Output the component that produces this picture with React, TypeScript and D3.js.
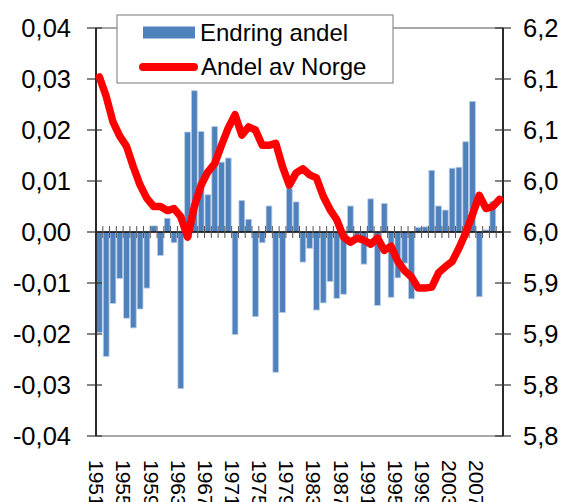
import React from "react";
import * as d3 from "d3";

const years: number[] = [
  1951, 1952, 1953, 1954, 1955, 1956, 1957, 1958, 1959, 1960,
  1961, 1962, 1963, 1964, 1965, 1966, 1967, 1968, 1969, 1970,
  1971, 1972, 1973, 1974, 1975, 1976, 1977, 1978, 1979, 1980,
  1981, 1982, 1983, 1984, 1985, 1986, 1987, 1988, 1989, 1990,
  1991, 1992, 1993, 1994, 1995, 1996, 1997, 1998, 1999, 2000,
  2001, 2002, 2003, 2004, 2005, 2006, 2007, 2008, 2009, 2010,
];

const endringAndel: (number | null)[] = [
  -0.0197, -0.0244, -0.014, -0.0091, -0.0169, -0.0188, -0.0151, -0.011, 0.0012, -0.0046,
  0.0027, -0.0021, -0.0307, 0.0196, 0.0277, 0.0197, 0.0073, 0.0207, 0.0137, 0.0145,
  -0.0201, 0.0062, 0.0025, -0.0166, -0.0021, 0.0051, -0.0275, -0.0158, 0.0086, 0.0059,
  -0.0059, -0.0032, -0.0153, -0.0139, -0.0097, -0.013, -0.0122, 0.0051, -0.0015, -0.0063,
  0.0065, -0.0144, 0.0056, -0.0128, -0.009, -0.0061, -0.0131, 0.0009, 0.001, 0.0121,
  0.0051, 0.0043, 0.0125, 0.0127, 0.0177, 0.0256, -0.0127, 0.0004, 0.006, null,
];

const andelAvNorge: number[] = [
  6.152, 6.133, 6.108, 6.094, 6.084, 6.064, 6.046, 6.033, 6.025, 6.025,
  6.021, 6.023, 6.015, 5.995, 6.025, 6.046, 6.059, 6.067, 6.085, 6.102,
  6.115, 6.095, 6.103, 6.1, 6.085, 6.085, 6.087, 6.064, 6.046, 6.058,
  6.062, 6.056, 6.053, 6.035, 6.022, 6.012, 5.995, 5.99, 5.994, 5.992,
  5.988, 5.994, 5.982, 5.986, 5.971, 5.962, 5.956, 5.945, 5.945, 5.946,
  5.96, 5.966, 5.971, 5.984, 5.999, 6.017, 6.036, 6.023, 6.025, 6.032,
];

const xLabelYears: number[] = [1951, 1955, 1959, 1963, 1967, 1971, 1975, 1979, 1983, 1987, 1991, 1995, 1999, 2003, 2007];

const leftTicks: number[] = [0.04, 0.03, 0.02, 0.01, 0, -0.01, -0.02, -0.03, -0.04];
const leftTickLabels: string[] = ["0,04", "0,03", "0,02", "0,01", "0,00", "-0,01", "-0,02", "-0,03", "-0,04"];

const rightTicks: number[] = [6.2, 6.15, 6.1, 6.05, 6.0, 5.95, 5.9, 5.85, 5.8];
const rightTickLabels: string[] = ["6,2", "6,1", "6,1", "6,0", "6,0", "5,9", "5,9", "5,8", "5,8"];

const seriesNames: string[] = ["Endring andel", "Andel av Norge"];

const FONT = "'Liberation Sans', Arial, sans-serif";
const BLUE = "#4F81BD";
const RED = "#FF0000";

export default function App() {
  const W = 567;
  const H = 502;
  const left = 96;
  const right = 503;
  const top = 28;
  const bottom = 436;

  const x = d3
    .scaleBand<number>()
    .domain(years)
    .range([left, right])
    .paddingInner(0.15)
    .paddingOuter(0.075);
  const step = x.step();
  const yL = d3.scaleLinear().domain([-0.04, 0.04]).range([bottom, top]);
  const yR = d3.scaleLinear().domain([5.8, 6.2]).range([bottom, top]);

  const line = d3
    .line<number>()
    .x((_, i) => (x(years[i]) as number) + x.bandwidth() / 2)
    .y((d) => yR(d));

  const y0 = yL(0);

  return (
    <svg
      width={W}
      height={H}
      style={{ position: "absolute", left: 0, top: 0, background: "#fff" }}
      fontFamily={FONT}
    >
      <rect x={0} y={0} width={W} height={H} fill="#fff" />
      {/* plot area border */}
      <rect x={left} y={top} width={right - left} height={bottom - top} fill="none" stroke="#8C8C8C" strokeWidth={1.5} />

      {/* bars */}
      {endringAndel.map((v, i) => {
        if (v === null) return null;
        const yy = yL(v);
        return (
          <rect
            key={"b" + i}
            x={x(years[i]) as number}
            y={Math.min(yy, y0)}
            width={x.bandwidth()}
            height={Math.abs(yy - y0)}
            fill={BLUE}
            stroke="#B9CDE5"
            strokeWidth={0.8}
          />
        );
      })}

      {/* zero axis with category ticks */}
      <line x1={left} x2={right} y1={y0} y2={y0} stroke="#000" strokeWidth={1.5} />
      {years.map((yr, i) => {
        const bx = (x(yr) as number) - (step * 0.15) / 2;
        if (i === 0) return null;
        return <line key={"t" + i} x1={bx} x2={bx} y1={y0 - 6} y2={y0 + 6} stroke="#555" strokeWidth={1} />;
      })}
      <line x1={right} x2={right} y1={y0 - 6} y2={y0 + 6} stroke="#555" strokeWidth={1} />

      {/* left axis */}
      <line x1={left} x2={left} y1={top} y2={bottom} stroke="#000" strokeWidth={1.5} />
      {leftTicks.map((t, i) => (
        <g key={"l" + i}>
          <line x1={left - 9} x2={left + 6} y1={yL(t)} y2={yL(t)} stroke="#333" strokeWidth={1.2} />
          <text x={71} y={yL(t)} dy="0.36em" textAnchor="end" fontSize={25.5} fill="#000">
            {leftTickLabels[i]}
          </text>
        </g>
      ))}

      {/* right axis */}
      <line x1={right} x2={right} y1={top} y2={bottom} stroke="#000" strokeWidth={1.5} />
      {rightTicks.map((t, i) => (
        <g key={"r" + i}>
          <line x1={right - 8} x2={right + 8} y1={yR(t)} y2={yR(t)} stroke="#333" strokeWidth={1.2} />
          <text x={523} y={yR(t)} dy="0.36em" textAnchor="start" fontSize={25.5} fill="#000">
            {rightTickLabels[i]}
          </text>
        </g>
      ))}

      {/* line */}
      <path
        d={line(andelAvNorge) || ""}
        fill="none"
        stroke={RED}
        strokeWidth={7.5}
        strokeLinejoin="round"
        strokeLinecap="round"
      />

      {/* x labels */}
      {xLabelYears.map((yr) => {
        const cx = (x(yr) as number) + x.bandwidth() / 2 - 2.5;
        return (
          <text
            key={"x" + yr}
            transform={`translate(${cx},460) rotate(90)`}
            dy="0.36em"
            textAnchor="start"
            fontSize={21}
            fill="#000"
          >
            {yr}
          </text>
        );
      })}

      {/* legend */}
      <rect x={117} y={15} width={276} height={68} fill="#fff" stroke="#8C8C8C" strokeWidth={1.2} />
      <rect x={143} y={26.5} width={52} height={12} fill={BLUE} />
      <text x={200} y={41} fontSize={24} fill="#000">
        {seriesNames[0]}
      </text>
      <line x1={143} x2={194} y1={67} y2={67} stroke={RED} strokeWidth={8} strokeLinecap="round" />
      <text x={201} y={75} fontSize={24} fill="#000">
        {seriesNames[1]}
      </text>
    </svg>
  );
}
